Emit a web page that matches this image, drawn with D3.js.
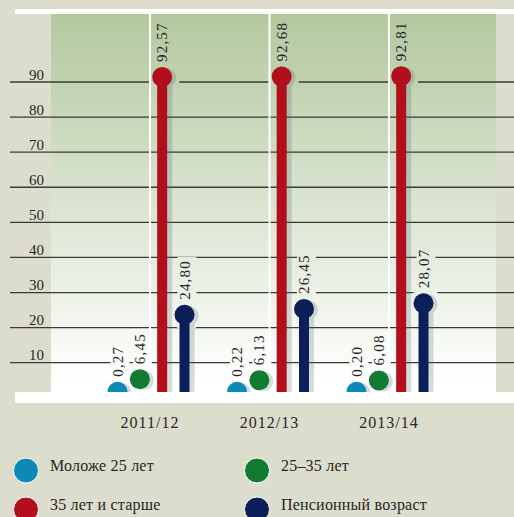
<!DOCTYPE html>
<html>
<head>
<meta charset="utf-8">
<script src="https://cdn.jsdelivr.net/npm/d3@7"></script>
<style>
  body { margin: 0; background: #dcddcc; }
  svg { display: block; }
  text { font-family: "Liberation Serif", "DejaVu Serif", serif; fill: #262626; }
</style>
</head>
<body>
<svg id="chart"></svg>
<script>
// chart data
const categories = ["2011/12", "2012/13", "2013/14"];
const seriesNames = ["Моложе 25 лет", "25–35 лет", "35 лет и старше", "Пенсионный возраст"];
const seriesColors = ["#0a8ab4", "#137a31", "#b20e1b", "#0c1f5b"];
const under25 = [0.27, 0.22, 0.20];
const from25to35 = [6.45, 6.13, 6.08];
const over35 = [92.57, 92.68, 92.81];
const pensionAge = [24.80, 26.45, 28.07];
const yTicks = [10, 20, 30, 40, 50, 60, 70, 80, 90];

const seriesValues = [under25, from25to35, over35, pensionAge];

// set the dimensions
const width = 514;
const height = 517;
const plot = { left: 51, right: 496, top: 14, bottom: 392 };

const svg = d3.select("#chart")
  .attr("width", width)
  .attr("height", height);

const ru = d3.formatLocale({ decimal: ",", thousands: " ", grouping: [3], currency: ["", ""] });
const fmt = ru.format(".2f");

// scales
const x = d3.scalePoint().domain(categories).range([150, 389]);
const xSub = d3.scalePoint().domain(d3.range(seriesNames.length)).range([-32.5, 34.5]);
const y = d3.scaleLinear().domain([0, 90]).range([397.8, 82]);

// gradient for plot area (also used as knockout colour)
const defs = svg.append("defs");
const grad = defs.append("linearGradient")
  .attr("id", "bg")
  .attr("gradientUnits", "userSpaceOnUse")
  .attr("x1", 0).attr("x2", 0)
  .attr("y1", plot.top).attr("y2", plot.bottom - 10);
grad.append("stop").attr("offset", 0).attr("stop-color", "#b3c89f");
grad.append("stop").attr("offset", 1).attr("stop-color", "#ffffff");

// plot background
svg.append("rect")
  .attr("x", plot.left).attr("y", plot.top)
  .attr("width", plot.right - plot.left).attr("height", plot.bottom - plot.top)
  .attr("fill", "url(#bg)");

// top white band
svg.append("rect")
  .attr("x", 15).attr("y", 9)
  .attr("width", width - 15).attr("height", 5)
  .attr("fill", "#ffffff");

// gridlines + tick labels
const grid = svg.append("g").attr("class", "grid");
grid.selectAll("line")
  .data(yTicks)
  .enter()
  .append("line")
  .attr("x1", 10).attr("x2", width)
  .attr("y1", (d) => y(d)).attr("y2", (d) => y(d))
  .attr("stroke", "#3a3a36")
  .attr("stroke-width", 1.3);

grid.selectAll("text")
  .data(yTicks)
  .enter()
  .append("text")
  .attr("x", 29)
  .attr("y", (d) => y(d) - 2.5)
  .attr("font-size", 15)
  .text((d) => d);

// flatten data to points
const points = [];
categories.forEach((c, i) => {
  seriesValues.forEach((vals, s) => {
    const v = vals[i];
    const cx = x(c) + xSub(s);
    const cy = Math.min(y(v) + 4, y(0) - 6);
    points.push({ cat: c, s: s, v: v, cx: cx, cy: cy });
  });
});

const r = 10;

// knockout halos round markers
svg.append("g")
  .selectAll("circle")
  .data(points)
  .enter()
  .append("circle")
  .attr("cx", (d) => d.cx + 2)
  .attr("cy", (d) => d.cy)
  .attr("r", 16)
  .attr("fill", "url(#bg)");

// knockout boxes behind value labels (filled once labels are measured)
const knock = svg.append("g");

// white separators at category centres
svg.append("g")
  .selectAll("line")
  .data(categories)
  .enter()
  .append("line")
  .attr("x1", (d) => x(d)).attr("x2", (d) => x(d))
  .attr("y1", plot.top).attr("y2", plot.bottom)
  .attr("stroke", "#ffffff")
  .attr("stroke-width", 2);

// shadows
const shadow = svg.append("g").attr("fill", "#4f6f73").attr("opacity", 0.24);
shadow.selectAll("rect")
  .data(points.filter((d) => d.s >= 2))
  .enter()
  .append("rect")
  .attr("x", (d) => d.cx)
  .attr("y", (d) => d.cy + 1)
  .attr("width", 10)
  .attr("height", (d) => y(0) - d.cy);
shadow.selectAll("circle")
  .data(points)
  .enter()
  .append("circle")
  .attr("cx", (d) => d.cx + 4)
  .attr("cy", (d) => d.cy + 1)
  .attr("r", r);

// stems
svg.append("g")
  .selectAll("rect")
  .data(points.filter((d) => d.s >= 2))
  .enter()
  .append("rect")
  .attr("x", (d) => d.cx - 5)
  .attr("y", (d) => d.cy)
  .attr("width", 10)
  .attr("height", (d) => y(0) - d.cy)
  .attr("fill", (d) => seriesColors[d.s]);

// heads
svg.append("g")
  .selectAll("circle")
  .data(points)
  .enter()
  .append("circle")
  .attr("cx", (d) => d.cx)
  .attr("cy", (d) => d.cy)
  .attr("r", r)
  .attr("fill", (d) => seriesColors[d.s]);

// value labels
const labels = svg.append("g")
  .selectAll("text")
  .data(points)
  .enter()
  .append("text")
  .attr("transform", (d) => "translate(" + (d.cx + 5) + "," + (d.cy - r - 5) + ") rotate(-90)")
  .attr("font-size", 15)
  .attr("letter-spacing", 1.2)
  .text((d) => fmt(d.v));

labels.each(function (d) {
  const len = this.getComputedTextLength();
  knock.append("rect")
    .attr("x", d.cx + 5 - 12)
    .attr("y", d.cy - r - 5 - len - 3)
    .attr("width", 19)
    .attr("height", len + 6)
    .attr("fill", "url(#bg)");
});

// bottom white band
svg.append("rect")
  .attr("x", 15).attr("y", plot.bottom)
  .attr("width", width - 15).attr("height", 11)
  .attr("fill", "#ffffff");
svg.append("rect")
  .attr("x", 0).attr("y", plot.bottom + 11)
  .attr("width", width).attr("height", 10)
  .attr("fill", "#dcddcc");

// category labels
svg.append("g")
  .selectAll("text")
  .data(categories)
  .enter()
  .append("text")
  .attr("x", (d) => x(d))
  .attr("y", 428)
  .attr("text-anchor", "middle")
  .attr("font-size", 16)
  .attr("letter-spacing", 1)
  .text((d) => d);

// legend
const legend = svg.append("g")
  .selectAll("g")
  .data(seriesNames)
  .enter()
  .append("g")
  .attr("transform", (d, i) => "translate(" + (i % 2 === 0 ? 26 : 257) + "," + (i < 2 ? 470.5 : 509.5) + ")");

legend.append("circle")
  .attr("r", 12.5)
  .attr("fill", (d, i) => seriesColors[i])
  .attr("stroke", "#ffffff")
  .attr("stroke-width", 1);

legend.append("text")
  .attr("x", 24)
  .attr("y", 0)
  .attr("font-size", 16)
  .attr("letter-spacing", 0.2)
  .text((d) => d);
</script>
</body>
</html>
